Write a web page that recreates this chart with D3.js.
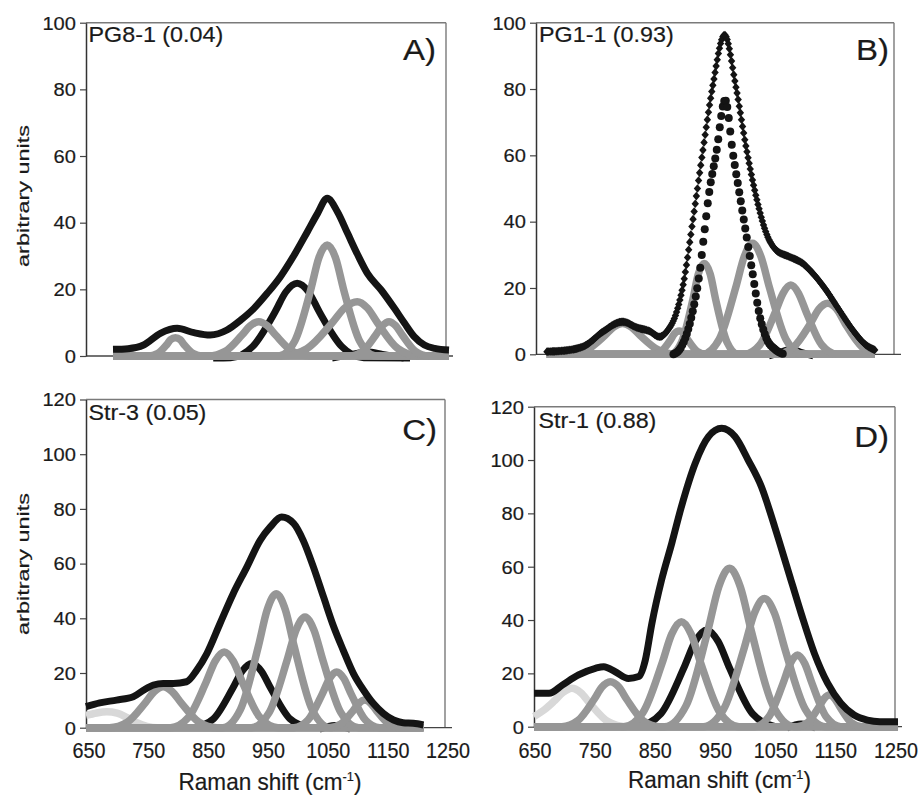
<!DOCTYPE html>
<html><head><meta charset="utf-8">
<script src="https://cdn.jsdelivr.net/npm/d3@7"></script>
<style>html,body{margin:0;padding:0;background:#fff;}svg{display:block;}</style>
</head><body>
<script>
// ---------- tick labels ----------
const xTicks = [650, 750, 850, 950, 1050, 1150, 1250];
const yTicksAB = [0, 20, 40, 60, 80, 100];
const yTicksCD = [0, 20, 40, 60, 80, 100, 120];

// ---------- Panel A: PG8-1 (0.04) ----------
const A_env = [[695,2.0],[720,2.2],[746,3.3],[774,6.8],[802,8.3],[830,7.0],[857,6.3],[885,7.8],[908,10.8],[930,14.3],[952,18.8],[974,23.8],[997,30.3],[1019,37.3],[1036,42.8],[1052,47.3],[1069,43.3],[1086,36.8],[1103,30.3],[1119,24.8],[1142,19.8],[1164,14.3],[1181,9.8],[1197,5.8],[1214,3.3],[1231,2.3],[1255,1.8]];
const A_g1 = [[695,0],[754,0],[769,0.7],[784,3.3],[791,4.9],[799,5.5],[807,4.9],[814,3.3],[829,0.7],[844,0],[1255,0]];
const A_g2 = [[695,0],[854,0],[882,1.4],[910,6.3],[924,9.1],[938,10.3],[952,9.1],[966,6.3],[994,1.4],[1022,0],[1255,0]];
const A_g3 = [[695,0],[971,0],[998,4.5],[1025,20.2],[1038,29.4],[1052,33.3],[1066,29.4],[1079,20.2],[1106,4.5],[1133,0],[1255,0]];
const A_g4 = [[695,0],[976,0],[1018,2.2],[1060,9.9],[1081,14.4],[1102,16.3],[1119,14.4],[1136,9.9],[1170,2.2],[1204,0],[1255,0]];
const A_g5 = [[695,0],[1089,0],[1111,1.4],[1133,6.3],[1144,9.1],[1155,10.3],[1166,9.1],[1177,6.3],[1199,1.4],[1221,0],[1255,0]];
const A_k1 = [[862,-0.6],[891,-0.5],[928,2.9],[965,13.2],[983,19.2],[1002,21.8],[1021,19.2],[1039,13.2],[1076,2.9],[1113,-0.5],[1190,-0.6]];
const A_k2 = [[1060,-0.6],[1094,0.5],[1119,1.2],[1144,0.5],[1180,-0.6]];

// ---------- Panel B: PG1-1 (0.93) ----------
const B_env = [[668,0.8],[706,1.3],[734,2.8],[762,6.8],[795,9.8],[820,8.0],[840,7.0],[857,5.3],[871,7.3],[885,12.4],[896,20.4],[913,40.5],[929,60.6],[946,80.7],[966,96.3],[985,80.7],[1002,62.6],[1019,47.5],[1036,36.5],[1052,31.5],[1075,29.4],[1097,27.4],[1114,24.4],[1136,19.4],[1158,13.4],[1181,7.3],[1203,2.8],[1218,1.3]];
const B_dot = [[880,0],[890,1.3],[901,5.3],[912,12.4],[924,24.4],[932,36.5],[940,48.5],[952,60.6],[967,76.7],[980,60.6],[991,48.5],[1002,36.5],[1013,24.4],[1024,12.4],[1035,5.3],[1052,1.3],[1066,0]];
const B_g1 = [[668,0],[705,0],[735,1.3],[765,5.6],[780,8.2],[795,9.3],[810,8.2],[825,5.6],[855,1.3],[885,0],[1218,0]];
const B_g2 = [[668,0],[875,0],[894,3.7],[913,16.6],[922,24.2],[932,27.4],[942,24.2],[951,16.6],[970,3.7],[989,0],[1218,0]];
const B_g3 = [[668,0],[845,0],[860,0.9],[875,4.2],[882,6.2],[890,7.0],[898,6.2],[905,4.2],[920,0.9],[935,0],[1218,0]];
const B_g4 = [[668,0],[929,0],[957,4.5],[985,20.3],[999,29.5],[1013,33.5],[1027,29.5],[1041,20.3],[1069,4.5],[1097,0],[1218,0]];
const B_g5 = [[668,0],[999,0],[1025,2.8],[1051,12.7],[1064,18.4],[1077,20.9],[1090,18.4],[1103,12.7],[1129,2.8],[1155,0],[1218,0]];
const B_g6 = [[668,0],[1052,0],[1081,2.1],[1110,9.3],[1124,13.6],[1139,15.4],[1154,13.6],[1168,9.3],[1197,2.1],[1218,0.4]];
const B_k1 = [[1040,-0.5],[1060,0.6],[1077,1.5],[1094,0.6],[1115,-0.5]];

// ---------- Panel C: Str-3 (0.05) ----------
const C_env = [[650,7.7],[673,9.1],[701,10.1],[729,11.3],[746,13.7],[763,15.6],[779,16.2],[796,16.2],[818,16.8],[835,21.0],[852,27.1],[874,38.1],[896,49.0],[919,58.8],[941,68.5],[958,73.4],[977,77.0],[997,74.7],[1013,68.5],[1030,58.8],[1047,47.8],[1064,36.9],[1080,28.3],[1097,19.8],[1114,13.7],[1130,8.9],[1147,5.2],[1164,2.8],[1180,1.8],[1197,1.6],[1214,1.0]];
const C_l1 = [[650,4.5],[668,5.4],[685,5.8],[702,5.3],[718,3.8],[735,1.8],[752,0.5],[770,0],[1214,0]];
const C_g1 = [[650,0],[689,0],[719,2.0],[749,9.1],[764,13.2],[779,15.0],[794,13.2],[809,9.1],[839,2.0],[869,0],[1214,0]];
const C_g2 = [[650,0],[791,0],[821,3.7],[851,16.8],[866,24.4],[881,27.7],[896,24.4],[911,16.8],[941,3.7],[971,0],[1214,0]];
const C_g3 = [[650,0],[878,0],[908,6.6],[938,29.7],[953,43.2],[968,49.0],[983,43.2],[998,29.7],[1028,6.6],[1058,0],[1214,0]];
const C_g4 = [[650,0],[926,0],[956,5.5],[986,24.6],[1001,35.7],[1016,40.5],[1031,35.7],[1046,24.6],[1076,5.5],[1106,0],[1214,0]];
const C_g5 = [[650,0],[997,0],[1021,2.8],[1045,12.4],[1057,18.0],[1069,20.4],[1081,18.0],[1093,12.4],[1117,2.8],[1141,0],[1214,0]];
const C_g6 = [[650,0],[1056,0],[1076,1.4],[1096,6.1],[1106,8.9],[1116,10.1],[1126,8.9],[1136,6.1],[1156,1.4],[1176,0],[1214,0]];
const C_k1 = [[831,0],[863,3.2],[895,14.3],[911,20.7],[927,23.5],[943,20.7],[959,14.3],[991,3.2],[1023,0]];
const C_k2 = [[1040,-0.5],[1066,0.8],[1092,-0.5]];

// ---------- Panel D: Str-1 (0.88) ----------
const D_env = [[650,12.5],[675,12.5],[697,15.6],[724,19.4],[752,21.9],[766,22.5],[785,20.6],[807,18.1],[824,18.8],[835,25.0],[846,38.8],[862,55.0],[879,68.8],[895,82.5],[918,98.8],[940,108.8],[962,111.9],[984,108.8],[1006,100.0],[1028,90.0],[1050,75.0],[1072,58.8],[1094,42.5],[1116,27.5],[1138,16.3],[1160,8.8],[1182,4.4],[1204,2.5],[1225,1.9],[1255,1.9]];
const D_l1 = [[650,3.8],[668,6.5],[683,9.5],[698,12.8],[713,14.4],[728,12.7],[743,8.7],[773,1.9],[803,0],[1255,0]];
const D_g1 = [[650,0],[696,0],[723,2.3],[750,10.3],[763,14.9],[777,16.9],[791,14.9],[804,10.3],[831,2.3],[858,0],[1255,0]];
const D_g2 = [[650,0],[799,0],[831,5.3],[863,23.9],[879,34.8],[895,39.4],[911,34.8],[927,23.9],[959,5.3],[991,0],[1255,0]];
const D_g3 = [[650,0],[867,0],[903,8.0],[939,36.1],[957,52.4],[975,59.4],[993,52.4],[1011,36.1],[1047,8.0],[1083,0],[1255,0]];
const D_g4 = [[650,0],[931,0],[965,6.5],[999,29.2],[1016,42.4],[1033,48.1],[1050,42.4],[1067,29.2],[1101,6.5],[1135,0],[1255,0]];
const D_g5 = [[650,0],[1016,0],[1040,3.6],[1064,16.3],[1076,23.7],[1088,26.9],[1100,23.7],[1112,16.3],[1136,3.6],[1160,0],[1255,0]];
const D_g6 = [[650,0],[1087,0],[1105,1.6],[1123,7.2],[1132,10.5],[1141,11.9],[1150,10.5],[1159,7.2],[1177,1.6],[1195,0],[1255,0]];
const D_k1 = [[823,0],[861,4.9],[899,22.0],[918,32.0],[937,36.3],[956,32.0],[975,22.0],[1013,4.9],[1051,0]];
const D_k2 = [[1070,-0.5],[1094,1.0],[1118,-0.5]];

// ---------- layout / style ----------
const FONT = '"Liberation Sans", Arial, Helvetica, sans-serif';
const BLACK = '#141414', GREY = '#969696', LIGHT = '#d8d8d8';

const panels = [
  {title:'PG8-1 (0.04)', letter:'A)', yTicks:yTicksAB, env:A_env, envMode:'line',
   light:[], black:[A_k1,A_k2], grey:[A_g1,A_g2,A_g3,A_g4,A_g5], dots:[],
   left:86, right:446, bottom:356, top:22.7, titlePos:[88.5,42], letterPos:[436,60],
   yTitle:[28.5,196], xLabels:false},
  {title:'PG1-1 (0.93)', letter:'B)', yTicks:yTicksAB, env:B_env, envMode:'diamond',
   light:[], black:[B_k1], grey:[B_g1,B_g3,B_g2,B_g4,B_g5,B_g6], dots:[B_dot],
   left:536, right:894, bottom:354.3, top:22.7, titlePos:[539,42], letterPos:[889,60],
   yTitle:null, xLabels:false},
  {title:'Str-3 (0.05)', letter:'C)', yTicks:yTicksCD, env:C_env, envMode:'line',
   light:[C_l1], black:[C_k1,C_k2], grey:[C_g1,C_g2,C_g3,C_g4,C_g5,C_g6], dots:[],
   left:86, right:445, bottom:727.7, top:399.5, titlePos:[88.5,420], letterPos:[437,440],
   yTitle:[28.5,564], xLabels:true, xdx:3, xTitle:[270,790]},
  {title:'Str-1 (0.88)', letter:'D)', yTicks:yTicksCD, env:D_env, envMode:'line',
   light:[D_l1], black:[D_k1,D_k2], grey:[D_g1,D_g2,D_g3,D_g4,D_g5,D_g6], dots:[],
   left:534, right:895, bottom:726.7, top:406.7, titlePos:[538.5,428.3], letterPos:[889,446.7],
   yTitle:null, xLabels:true, xdx:1, xTitle:[719.5,788]}
];

const svg = d3.select('body').append('svg').attr('width', 924).attr('height', 796)
  .style('font-family', FONT);
svg.append('rect').attr('width', 924).attr('height', 796).attr('fill', '#fff');

function addText(g, x, y, str, size, sx, anchor, rot) {
  return g.append('text')
    .attr('transform', `translate(${x},${y})` + (rot ? ` rotate(${rot})` : '') + ` scale(${sx},1)`)
    .attr('text-anchor', anchor).attr('font-size', size)
    .attr('fill', '#1a1a1a').attr('stroke', '#1a1a1a').attr('stroke-width', 0.2)
    .text(str);
}

function sampleByX(node, xStart, xEnd, step) {
  const L = node.getTotalLength();
  const pts = [];
  let target = xStart;
  for (let l = 0; l <= L; l += 0.25) {
    const p = node.getPointAtLength(l);
    while (target <= xEnd && p.x >= target) { pts.push([p.x, p.y]); target += step; }
  }
  return pts;
}

panels.forEach(p => {
  const yMax = p.yTicks[p.yTicks.length - 1];
  const x = d3.scaleLinear().domain([xTicks[0], xTicks[xTicks.length - 1]]).range([p.left, p.right]);
  const y = d3.scaleLinear().domain([0, yMax]).range([p.bottom, p.top]);
  const g = svg.append('g');

  // frame (top + right)
  g.append('line').attr('x1', p.left).attr('x2', p.right).attr('y1', p.top).attr('y2', p.top)
    .attr('stroke', '#7a7a7a').attr('stroke-width', 1.4);
  g.append('line').attr('x1', p.right).attr('x2', p.right).attr('y1', p.top).attr('y2', p.bottom)
    .attr('stroke', '#7a7a7a').attr('stroke-width', 1.4);
  // x axis baseline
  g.append('line').attr('x1', p.left).attr('x2', p.right + 7).attr('y1', y(0)).attr('y2', y(0))
    .attr('stroke', '#444').attr('stroke-width', 1.3);

  // y axis
  const ax = g.append('g').attr('transform', `translate(${p.left},0)`)
    .call(d3.axisLeft(y).tickValues(p.yTicks).tickSize(6).tickSizeOuter(0).tickFormat(''));
  ax.select('.domain').attr('stroke', '#333').attr('stroke-width', 1.5);
  ax.selectAll('.tick line').attr('stroke', '#444').attr('stroke-width', 1.2);
  p.yTicks.forEach(v => addText(g, p.left - 10, y(v) + 6.8, String(v), 19, 1.06, 'end'));

  // x tick labels / title
  if (p.xLabels) {
    xTicks.forEach(v => addText(g, x(v) + p.xdx, 758, String(v), 22, 0.9, 'middle'));
    const t = addText(g, p.xTitle[0], p.xTitle[1], '', 23, 0.98, 'middle');
    t.append('tspan').text('Raman shift (cm');
    t.append('tspan').attr('font-size', 13).attr('dy', -9).text('-1');
    t.append('tspan').attr('dy', 9).text(')');
  }
  if (p.yTitle) addText(g, p.yTitle[0], p.yTitle[1], 'arbitrary units', 16.5, 1.42, 'middle', -90);

  // curves
  const line = d3.line().x(d => x(d[0])).y(d => y(d[1])).curve(d3.curveMonotoneX);
  const curves = g.append('g').attr('fill', 'none').attr('stroke-linejoin', 'round');
  p.light.forEach(d => curves.append('path').attr('d', line(d)).attr('stroke', LIGHT).attr('stroke-width', 7.5));
  p.black.forEach(d => curves.append('path').attr('d', line(d)).attr('stroke', BLACK).attr('stroke-width', 7));
  p.grey.forEach(d => curves.append('path').attr('d', line(d)).attr('stroke', GREY).attr('stroke-width', 7.5));

  // dotted (circle-marker) component
  p.dots.forEach(d => {
    const hp = curves.append('path').attr('d', line(d)).attr('stroke', 'none');
    const pts = sampleByX(hp.node(), x(d[0][0]), x(d[d.length - 1][0]), 1.5);
    g.append('g').selectAll('circle').data(pts).join('circle')
      .attr('cx', q => q[0]).attr('cy', q => q[1]).attr('r', 4).attr('fill', BLACK);
  });

  // envelope
  if (p.envMode === 'line') {
    curves.append('path').attr('d', line(p.env)).attr('stroke', BLACK).attr('stroke-width', 7);
  } else {
    const hp = curves.append('path').attr('d', line(p.env)).attr('stroke', 'none');
    const pts = sampleByX(hp.node(), x(p.env[0][0]), x(p.env[p.env.length - 1][0]), 1.1);
    g.append('g').selectAll('path').data(pts).join('path')
      .attr('transform', q => `translate(${q[0]},${q[1]})`)
      .attr('d', 'M0,-4.3L3.7,0L0,4.3L-3.7,0Z').attr('fill', BLACK);
  }

  // title and panel letter
  addText(g, p.titlePos[0], p.titlePos[1], p.title, 22, 1.06, 'start');
  addText(g, p.letterPos[0], p.letterPos[1], p.letter, 30, 1.1, 'end');
});
</script>
</body></html>
